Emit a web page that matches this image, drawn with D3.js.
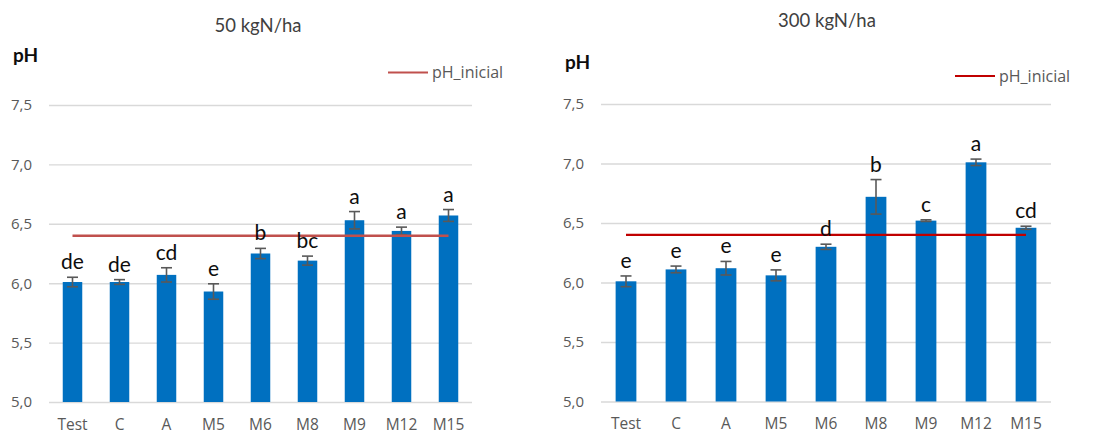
<!DOCTYPE html>
<html>
<head>
<meta charset="utf-8">
<script src="https://cdn.jsdelivr.net/npm/d3@7"></script>
<style>
  html, body { margin: 0; padding: 0; background: #fff; }
  svg { display: block; }
</style>
</head>
<body>
<svg id="chart" width="1097" height="434"></svg>
<script>
// Soil pH per treatment at two nitrogen rates
const categories = ["Test", "C", "A", "M5", "M6", "M8", "M9", "M12", "M15"];

const ph50 = [6.01, 6.01, 6.07, 5.93, 6.25, 6.19, 6.53, 6.44, 6.57];
const err50 = [0.04, 0.02, 0.06, 0.065, 0.043, 0.038, 0.073, 0.032, 0.05];
const letters50 = ["de", "de", "cd", "e", "b", "bc", "a", "a", "a"];

const ph300 = [6.01, 6.11, 6.12, 6.06, 6.30, 6.72, 6.52, 7.01, 6.46];
const err300 = [0.045, 0.028, 0.057, 0.046, 0.022, 0.145, 0.007, 0.027, 0.013];
const letters300 = ["e", "e", "e", "e", "d", "b", "c", "a", "cd"];

const phInicial = 6.4;
const yTicks = [5.0, 5.5, 6.0, 6.5, 7.0, 7.5];
const titles = ["50 kgN/ha", "300 kgN/ha"];
const legendLabel = "pH_inicial";
const axisTitle = "pH";

const svg = d3.select("#chart");
const fmt = v => d3.format(".1f")(v).replace(".", ",");

const panels = [
  { values: ph50, errors: err50, letters: letters50, title: titles[0],
    x0: 49, x1: 472, yTop: 105, yBot: 402,
    titleX: 258, titleY: 32, phX: 13, phY: 62,
    legX: 388, legY: 72.5, lineColor: "#C0504D" },
  { values: ph300, errors: err300, letters: letters300, title: titles[1],
    x0: 601, x1: 1051, yTop: 104, yBot: 401.5,
    titleX: 827, titleY: 27, phX: 565, phY: 69,
    legX: 955, legY: 76, lineColor: "#C00000" }
];

panels.forEach(p => {
  const g = svg.append("g");
  const x = d3.scaleBand().domain(categories).range([p.x0, p.x1])
    .paddingInner(0.585).paddingOuter(0.2925);
  const y = d3.scaleLinear().domain([5, 7.5]).range([p.yBot, p.yTop]);

  // gridlines + y tick labels
  const yAxis = g.append("g")
    .attr("transform", `translate(${p.x0},0)`)
    .call(d3.axisLeft(y).tickValues(yTicks).tickFormat(fmt)
      .tickSize(-(p.x1 - p.x0)).tickPadding(17));
  yAxis.select(".domain").remove();
  yAxis.selectAll(".tick line").attr("stroke", "#D9D9D9").attr("stroke-width", 1.4);
  yAxis.selectAll(".tick text")
    .attr("fill", "#595959")
    .style("font-family", "'Open Sans', sans-serif")
    .style("font-size", "15px");

  // category labels
  const xAxis = g.append("g")
    .attr("transform", `translate(0,${p.yBot})`)
    .call(d3.axisBottom(x).tickSize(0).tickPadding(16.5));
  xAxis.select(".domain").remove();
  xAxis.selectAll(".tick text")
    .attr("fill", "#595959")
    .style("font-family", "'Open Sans', sans-serif")
    .style("font-size", "15.5px");

  // bars
  g.selectAll("rect.bar")
    .data(p.values)
    .join("rect")
    .attr("class", "bar")
    .attr("x", (d, i) => x(categories[i]))
    .attr("width", x.bandwidth())
    .attr("y", d => y(d))
    .attr("height", d => y(5) - y(d))
    .attr("fill", "#0070C0");

  // error bars
  const capW = 5.5;
  const eb = g.selectAll("g.err")
    .data(p.values)
    .join("g")
    .attr("class", "err")
    .attr("stroke", "#595959")
    .attr("stroke-width", 1.6);
  eb.append("line")
    .attr("x1", (d, i) => x(categories[i]) + x.bandwidth() / 2)
    .attr("x2", (d, i) => x(categories[i]) + x.bandwidth() / 2)
    .attr("y1", (d, i) => y(d + p.errors[i]))
    .attr("y2", (d, i) => y(d - p.errors[i]));
  [1, -1].forEach(s => {
    eb.append("line")
      .attr("x1", (d, i) => x(categories[i]) + x.bandwidth() / 2 - capW)
      .attr("x2", (d, i) => x(categories[i]) + x.bandwidth() / 2 + capW)
      .attr("y1", (d, i) => y(d + s * p.errors[i]))
      .attr("y2", (d, i) => y(d + s * p.errors[i]));
  });

  // initial pH reference line
  g.append("line")
    .attr("x1", x(categories[0]) + x.bandwidth() / 2)
    .attr("x2", x(categories[categories.length - 1]) + x.bandwidth() / 2)
    .attr("y1", y(phInicial))
    .attr("y2", y(phInicial))
    .attr("stroke", p.lineColor)
    .attr("stroke-width", 2.4);

  // significance letters
  g.selectAll("text.letter")
    .data(p.values)
    .join("text")
    .attr("class", "letter")
    .attr("x", (d, i) => x(categories[i]) + x.bandwidth() / 2)
    .attr("y", (d, i) => y(d + p.errors[i]) - 8)
    .attr("text-anchor", "middle")
    .attr("fill", "#0D0D0D")
    .style("font-family", "Lato, sans-serif")
    .style("font-size", "21px")
    .text((d, i) => p.letters[i]);

  // title
  g.append("text")
    .attr("x", p.titleX).attr("y", p.titleY)
    .attr("text-anchor", "middle")
    .attr("fill", "#404040")
    .style("font-family", "Lato, sans-serif")
    .style("font-size", "18.5px")
    .text(p.title);

  // axis title
  g.append("text")
    .attr("x", p.phX).attr("y", p.phY)
    .attr("fill", "#0D0D0D")
    .style("font-family", "Lato, sans-serif")
    .style("font-weight", "bold")
    .style("font-size", "19px")
    .text(axisTitle);

  // legend
  g.append("line")
    .attr("x1", p.legX).attr("x2", p.legX + 40)
    .attr("y1", p.legY).attr("y2", p.legY)
    .attr("stroke", p.lineColor).attr("stroke-width", 2);
  g.append("text")
    .attr("x", p.legX + 44).attr("y", p.legY + 5.5)
    .attr("fill", "#595959")
    .style("font-family", "'Open Sans', sans-serif")
    .style("font-size", "16px")
    .text(legendLabel);
});
</script>
</body>
</html>
